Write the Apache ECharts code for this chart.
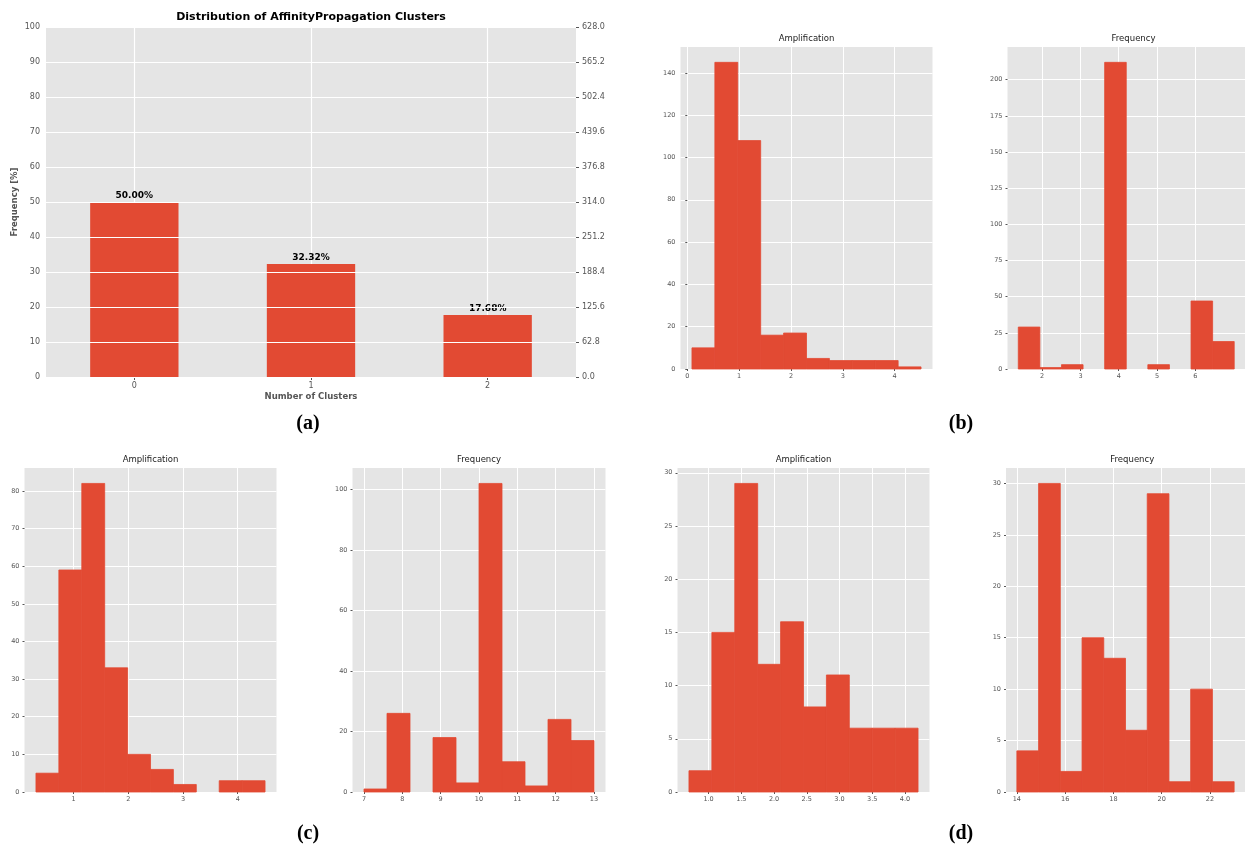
<!DOCTYPE html>
<html><head><meta charset="utf-8">
<script src="https://cdn.jsdelivr.net/npm/echarts@6/dist/echarts.min.js"></script>
<style>html,body{margin:0;padding:0;background:#fff}#c{width:1245px;height:846px}</style>
</head><body><div id="c"></div>
<script>
// ---------- Panel (a): cluster distribution ----------
const clusterIds = [0, 1, 2];
const clusterLabels = ['0', '1', '2'];
const clusterPct = [50.00, 32.32, 17.68];
const pctTicks = [0, 10, 20, 30, 40, 50, 60, 70, 80, 90, 100];
const countAxisMax = 628.0;
const countTickStep = 62.8;

// ---------- Panel (b): cluster 0 ----------
const ampB_edges = [0.09, 0.532, 0.974, 1.416, 1.858, 2.30, 2.742, 3.184, 3.626, 4.068, 4.51];
const ampB_counts = [10, 145, 108, 16, 17, 5, 4, 4, 4, 1];
const ampB_xticks = [0, 1, 2, 3, 4];
const ampB_yticks = [0, 20, 40, 60, 80, 100, 120, 140];

const freqB_edges = [1.376, 1.94, 2.504, 3.068, 3.632, 4.196, 4.76, 5.324, 5.888, 6.452, 7.016];
const freqB_counts = [29, 1, 3, 0, 212, 0, 3, 0, 47, 19];
const freqB_xticks = [2, 3, 4, 5, 6];
const freqB_yticks = [0, 25, 50, 75, 100, 125, 150, 175, 200];

// ---------- Panel (c): cluster 1 ----------
const ampC_edges = [0.311, 0.730, 1.149, 1.568, 1.987, 2.406, 2.824, 3.243, 3.662, 4.081, 4.50];
const ampC_counts = [5, 59, 82, 33, 10, 6, 2, 0, 3, 3];
const ampC_xticks = [1, 2, 3, 4];
const ampC_yticks = [0, 10, 20, 30, 40, 50, 60, 70, 80];

const freqC_edges = [7.0, 7.6, 8.2, 8.8, 9.4, 10.0, 10.6, 11.2, 11.8, 12.4, 13.0];
const freqC_counts = [1, 26, 0, 18, 3, 102, 10, 2, 24, 17];
const freqC_xticks = [7, 8, 9, 10, 11, 12, 13];
const freqC_yticks = [0, 20, 40, 60, 80, 100];

// ---------- Panel (d): cluster 2 ----------
const ampD_edges = [0.70, 1.05, 1.40, 1.75, 2.10, 2.45, 2.80, 3.15, 3.50, 3.85, 4.20];
const ampD_counts = [2, 15, 29, 12, 16, 8, 11, 6, 6, 6];
const ampD_xticks = [1.0, 1.5, 2.0, 2.5, 3.0, 3.5, 4.0];
const ampD_yticks = [0, 5, 10, 15, 20, 25, 30];

const freqD_edges = [14.0, 14.9, 15.8, 16.7, 17.6, 18.5, 19.4, 20.3, 21.2, 22.1, 23.0];
const freqD_counts = [4, 30, 2, 15, 13, 6, 29, 1, 10, 1];
const freqD_xticks = [14, 16, 18, 20, 22];
const freqD_yticks = [0, 5, 10, 15, 20, 25, 30];

const panelLetters = ['(a)', '(b)', '(c)', '(d)'];

// ---------- styling ----------
const BAR = '#E24A33';
const BG = '#E5E5E5';
const TICKC = '#555555';
const FONT = 'DejaVu Sans';

const grids = [];
const xAxes = [];
const yAxes = [];
const series = [];
const graphics = [];

// Panel (a)
grids.push({left: 46, top: 27, width: 530, height: 350, show: true, backgroundColor: BG, borderWidth: 0});
xAxes.push({
  type: 'value', gridIndex: 0, min: -0.5, max: 2.5,
  name: 'Number of Clusters', nameLocation: 'middle', nameGap: 15,
  nameTextStyle: {fontFamily: FONT, fontSize: 8.5, fontWeight: 'bold', color: '#555'},
  axisLine: {show: false},
  axisTick: {show: true, length: 3, lineStyle: {color: TICKC}, customValues: clusterIds},
  axisLabel: {fontFamily: FONT, fontSize: 8, color: TICKC, margin: 5, customValues: clusterIds,
    formatter: v => clusterLabels[clusterIds.indexOf(v)] ?? ''},
  splitLine: {show: true, lineStyle: {color: '#fff', width: 1.2}}
});
yAxes.push({
  type: 'value', gridIndex: 0, min: 0, max: 100, position: 'left',
  name: 'Frequency [%]', nameLocation: 'middle', nameGap: 27, nameRotate: 90,
  nameTextStyle: {fontFamily: FONT, fontSize: 8.5, fontWeight: 'bold', color: '#555'},
  axisLine: {show: false},
  axisTick: {show: true, length: 3, lineStyle: {color: TICKC}, customValues: pctTicks},
  axisLabel: {fontFamily: FONT, fontSize: 8, color: TICKC, margin: 6, customValues: pctTicks},
  splitLine: {show: false}
});
yAxes.push({
  type: 'value', gridIndex: 0, min: 0, max: countAxisMax, interval: countTickStep, position: 'right', z: 10,
  axisLine: {show: false},
  axisTick: {show: true, length: 3, lineStyle: {color: TICKC}},
  axisLabel: {fontFamily: FONT, fontSize: 8, color: TICKC, margin: 6, formatter: v => (+v).toFixed(1)},
  splitLine: {show: true, lineStyle: {color: '#fff', width: 1.2}}
});
series.push({
  type: 'custom', xAxisIndex: 0, yAxisIndex: 0, z: 2,
  data: clusterIds.map((c, i) => [c, clusterPct[i]]),
  encode: {x: 0, y: 1},
  renderItem: (params, api) => {
    const c = api.value(0), v = api.value(1);
    const p0 = api.coord([c - 0.25, v]);
    const p1 = api.coord([c + 0.25, 0]);
    const top = api.coord([c, v]);
    return {type: 'group', children: [
      {type: 'rect', shape: {x: p0[0], y: p0[1], width: p1[0] - p0[0], height: p1[1] - p0[1]}, style: {fill: BAR}},
      {type: 'text', x: top[0], y: top[1] - 6.5, style: {text: v.toFixed(2) + '%', fill: '#000',
        font: 'bold 9px "DejaVu Sans"', align: 'center', verticalAlign: 'middle'}}
    ]};
  }
});
graphics.push({type: 'text', x: 311, y: 17, style: {text: 'Distribution of AffinityPropagation Clusters',
  font: 'bold 11px "DejaVu Sans"', fill: '#000', align: 'center', verticalAlign: 'middle'}});

// Histogram panels
function addHist(box, edges, counts, xticks, yticks, title, xfmt) {
  const gi = grids.length;
  const lo = edges[0], hi = edges[edges.length - 1];
  const pad = (hi - lo) * 0.05;
  const ymax = Math.max(...counts) * 1.05;
  grids.push({left: box.left, top: box.top, width: box.width, height: box.height, show: true, backgroundColor: BG, borderWidth: 0});
  xAxes.push({
    type: 'value', gridIndex: gi, min: lo - pad, max: hi + pad,
    axisLine: {show: false},
    axisTick: {show: true, length: 2, lineStyle: {color: TICKC}, customValues: xticks},
    axisLabel: {fontFamily: FONT, fontSize: 6.5, color: TICKC, margin: 4, customValues: xticks, formatter: xfmt},
    splitLine: {show: true, lineStyle: {color: '#fff', width: 1}}
  });
  const yi = yAxes.length;
  yAxes.push({
    type: 'value', gridIndex: gi, min: 0, max: ymax,
    axisLine: {show: false},
    axisTick: {show: true, length: 2, lineStyle: {color: TICKC}, customValues: yticks},
    axisLabel: {fontFamily: FONT, fontSize: 6.5, color: TICKC, margin: 5, customValues: yticks},
    splitLine: {show: true, lineStyle: {color: '#fff', width: 1}}
  });
  series.push({
    type: 'custom', xAxisIndex: gi, yAxisIndex: yi,
    data: counts.map((c, i) => [edges[i], edges[i + 1], c]),
    encode: {x: [0, 1], y: 2},
    renderItem: (params, api) => {
      if (!api.value(2)) return null;
      const p0 = api.coord([api.value(0), api.value(2)]);
      const p1 = api.coord([api.value(1), 0]);
      return {type: 'rect', shape: {x: p0[0], y: p0[1], width: p1[0] - p0[0], height: p1[1] - p0[1]},
        style: {fill: BAR, stroke: BAR, lineWidth: 0.8}};
    }
  });
  graphics.push({type: 'text', x: box.left + box.width / 2, y: box.top - 8, style: {text: title,
    font: '8.5px "DejaVu Sans"', fill: '#222', align: 'center', verticalAlign: 'middle'}});
}
const intFmt = v => String(v);
const oneDec = v => (+v).toFixed(1);
addHist({left: 680.5, top: 47, width: 252, height: 322}, ampB_edges, ampB_counts, ampB_xticks, ampB_yticks, 'Amplification', intFmt);
addHist({left: 1007.5, top: 47, width: 252, height: 322}, freqB_edges, freqB_counts, freqB_xticks, freqB_yticks, 'Frequency', intFmt);
addHist({left: 24.5, top: 468, width: 252, height: 324}, ampC_edges, ampC_counts, ampC_xticks, ampC_yticks, 'Amplification', intFmt);
addHist({left: 352.5, top: 468, width: 253, height: 324}, freqC_edges, freqC_counts, freqC_xticks, freqC_yticks, 'Frequency', intFmt);
addHist({left: 677.5, top: 468, width: 252, height: 324}, ampD_edges, ampD_counts, ampD_xticks, ampD_yticks, 'Amplification', oneDec);
addHist({left: 1006, top: 468, width: 252.5, height: 324}, freqD_edges, freqD_counts, freqD_xticks, freqD_yticks, 'Frequency', intFmt);

// panel letters
const letterPos = [[308, 424], [961, 424], [308, 834], [961, 834]];
panelLetters.forEach((t, i) => graphics.push({type: 'text', x: letterPos[i][0], y: letterPos[i][1],
  style: {text: t, font: 'bold 20px "Liberation Serif"', fill: '#000', align: 'center', verticalAlign: 'middle'}}));

const chart = echarts.init(document.getElementById('c'), null, {renderer: 'canvas'});
chart.setOption({
  animation: false,
  backgroundColor: '#fff',
  grid: grids, xAxis: xAxes, yAxis: yAxes, series: series,
  graphic: {elements: graphics}
});
</script></body></html>
